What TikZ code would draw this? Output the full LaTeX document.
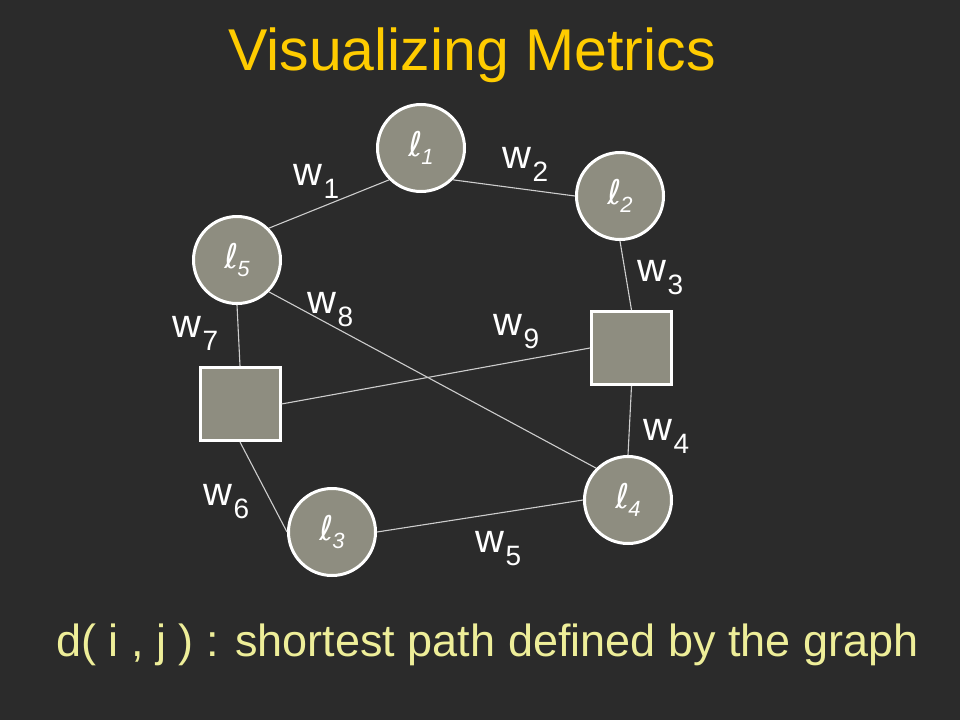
\documentclass[tikz,border=0pt]{standalone}
\usepackage{fontspec}
\setmainfont{Liberation Sans}
\newfontfamily\ellfont{DejaVu Sans}
\usepackage{tikz}

\definecolor{bgdark}{RGB}{43,43,43}
\definecolor{titlegold}{RGB}{255,204,0}
\definecolor{notecream}{RGB}{238,238,153}
\definecolor{nodegray}{RGB}{142,141,128}
\definecolor{edgegray}{RGB}{205,205,205}

\newcommand{\wlab}[1]{w\kern1.5pt\raisebox{-13pt}{\fontsize{28}{28}\selectfont #1}}
\newcommand{\ellab}[1]{{\ellfont\itshape ℓ}\kern-1pt\raisebox{-8pt}{\fontsize{22}{22}\selectfont\itshape #1}}

\begin{document}
\begin{tikzpicture}[x=1pt, y=-1pt,
                landmark/.style={circle, draw=white, line width=3pt, fill=nodegray,
                                 minimum size=87pt, inner sep=0pt, text=white,
                                 font=\fontsize{34}{34}\selectfont},
                hub/.style={rectangle, draw=white, line width=3pt, fill=nodegray,
                            minimum width=80pt, minimum height=73pt},
                link/.style={edgegray, line width=1.1pt},
                weight/.style={anchor=base west, inner sep=0pt, text=white,
                               font=\fontsize{40}{40}\selectfont}]

                % Slide background
                \fill[bgdark] (0,0) rectangle (960,720);

                % Title
                \node[anchor=base west, inner sep=0pt, text=titlegold,
                      font=\fontsize{59}{59}\selectfont] (title) at (228,70) {Visualizing Metrics};

                % Landmarks and hubs
                \node[landmark] (l1) at (421,148) {\ellab{1}};
                \node[landmark] (l2) at (620,196) {\ellab{2}};
                \node[landmark] (l5) at (237,260) {\ellab{5}};
                \node[landmark] (l4) at (628,500) {\ellab{4}};
                \node[landmark] (l3) at (332,532) {\ellab{3}};
                \node[hub] (hubR) at (631.5,348) {};
                \node[hub] (hubL) at (240,404) {};

                % Weighted edges
                \draw[link] (l5.north east) -- (l1.south west);
                \draw[link] (l1.south east) -- (l2.west);
                \draw[link] (l2.south) -- (hubR.north);
                \draw[link] (hubR.south) -- (l4.north);
                \draw[link] (l4.west) -- (l3.east);
                \draw[link] (l3.west) -- (hubL.south);
                \draw[link] (hubL.north) -- (l5.south);
                \draw[link] (l5.south east) -- (l4.north west);
                \draw[link] (hubL.east) -- (hubR.west);

                % Edge weights
                \node[weight] (w1) at (293,185) {\wlab{1}};
                \node[weight] (w2) at (502,168) {\wlab{2}};
                \node[weight] (w3) at (637,281) {\wlab{3}};
                \node[weight] (w4) at (643,440) {\wlab{4}};
                \node[weight] (w5) at (475,552) {\wlab{5}};
                \node[weight] (w6) at (203,505) {\wlab{6}};
                \node[weight] (w7) at (172,337) {\wlab{7}};
                \node[weight] (w8) at (307,313) {\wlab{8}};
                \node[weight] (w9) at (493,335) {\wlab{9}};

                % Caption
                \node[anchor=base west, inner sep=0pt, text=notecream,
                      font=\fontsize{45}{45}\selectfont] (note) at (56,656)
                      {d( i , j ) : shortest path defined by the graph};
\end{tikzpicture}
\end{document}
